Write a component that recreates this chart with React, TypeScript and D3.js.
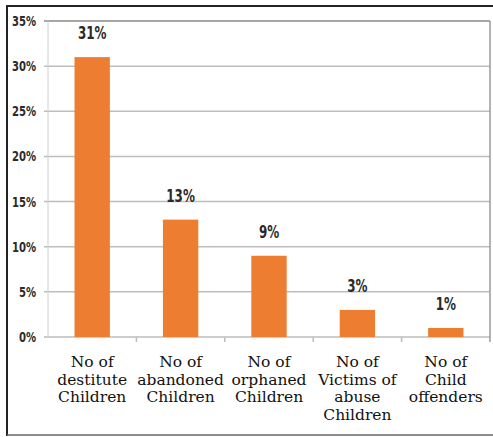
import React from "react";
import * as d3 from "d3";

const categories: string[][] = [
  ["No of", "destitute", "Children"],
  ["No of", "abandoned", "Children"],
  ["No of", "orphaned", "Children"],
  ["No of", "Victims of", "abuse", "Children"],
  ["No of", "Child", "offenders"],
];
const values: number[] = [31, 13, 9, 3, 1];
const yTicks: number[] = [0, 5, 10, 15, 20, 25, 30, 35];

const W = 493;
const H = 437;
const M = { left: 48, right: 3, top: 21, bottom: 100 };

export default function App() {
  const x = d3
    .scaleBand<number>()
    .domain(values.map((_, i) => i))
    .range([M.left, W - M.right])
    .paddingInner(0.6)
    .paddingOuter(0.3);
  const band = d3
    .scaleBand<number>()
    .domain(values.map((_, i) => i))
    .range([M.left, W - M.right]);
  const y = d3.scaleLinear().domain([0, 35]).range([H - M.bottom, M.top]);
  const narrow = "'Liberation Sans Narrow', 'DejaVu Sans Condensed', 'Arial Narrow', sans-serif";

  return (
    <svg width={W} height={H} style={{ position: "absolute", left: 0, top: 0 }}>
      <rect x={0} y={0} width={W} height={H} fill="#fff" />
      {/* outer frame */}
      <line x1={7} y1={6} x2={W} y2={6} stroke="#222" strokeWidth={2} />
      <line x1={7} y1={5} x2={7} y2={436} stroke="#222" strokeWidth={2} />
      <line x1={7} y1={435} x2={W} y2={435} stroke="#666" strokeWidth={1.5} />
      {/* gridlines */}
      {yTicks.map((t) => (
        <line
          key={t}
          x1={M.left - 4}
          x2={W - M.right}
          y1={y(t)}
          y2={y(t)}
          stroke={t === 35 ? "#8a8a8a" : "#bdbdbd"}
          strokeWidth={1.5}
        />
      ))}
      {/* plot area sides */}
      <line x1={M.left} x2={M.left} y1={M.top} y2={y(0)} stroke="#d0d0d0" strokeWidth={1} />
      <line x1={W - M.right} x2={W - M.right} y1={M.top} y2={y(0) + 5} stroke="#9a9a9a" strokeWidth={1.5} />
      {/* x category ticks */}
      {values.map((_, i) =>
        i === 0 ? null : (
          <line
            key={i}
            x1={band(i)!}
            x2={band(i)!}
            y1={y(0)}
            y2={y(0) + 5}
            stroke="#bdbdbd"
            strokeWidth={1.5}
          />
        )
      )}
      {/* y tick labels */}
      {yTicks.map((t) => (
        <text
          key={t}
          transform={`translate(36,${y(t) + 5}) scale(0.8,1)`}
          textAnchor="end"
          fontFamily={narrow}
          fontWeight="bold"
          fontSize={14}
          fill="#2a2a2a"
        >
          {t}%
        </text>
      ))}
      {/* bars */}
      {values.map((v, i) => (
        <rect
          key={i}
          x={x(i)!}
          y={y(v)}
          width={x.bandwidth()}
          height={y(0) - y(v)}
          fill="#ED7D31"
        />
      ))}
      {/* value labels */}
      {values.map((v, i) => (
        <text
          key={i}
          transform={`translate(${x(i)! + x.bandwidth() / 2},${y(v) - 18}) scale(0.78,1)`}
          textAnchor="middle"
          fontFamily={narrow}
          fontWeight="bold"
          fontSize={17}
          fill="#2a2a2a"
        >
          {v}%
        </text>
      ))}
      {/* category labels */}
      {categories.map((lines, i) => (
        <text
          key={i}
          x={band(i)! + band.bandwidth() / 2}
          textAnchor="middle"
          fontFamily="'DejaVu Serif', serif"
          fontSize={15.5}
          fill="#111"
        >
          {lines.map((l, j) => (
            <tspan key={j} x={band(i)! + band.bandwidth() / 2} y={367 + j * 17.5}>
              {l}
            </tspan>
          ))}
        </text>
      ))}
    </svg>
  );
}
